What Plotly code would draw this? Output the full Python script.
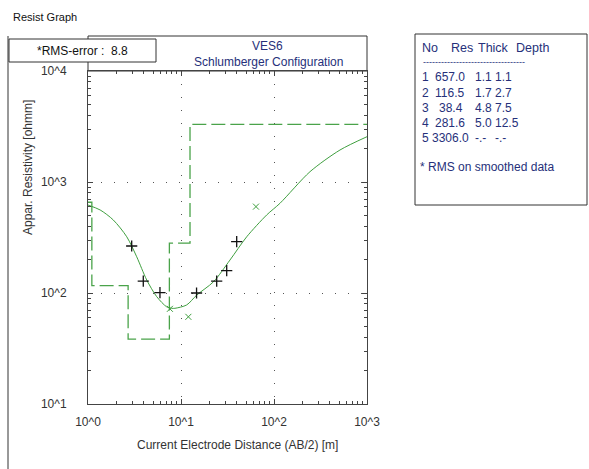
import plotly.graph_objects as go

# Measured apparent resistivity (AB/2 in m, rho_a in ohm-m)
meas_ab2 = [2.95, 3.93, 5.94, 14.7, 24.2, 31.0, 39.7]
meas_rho = [265, 128, 100.7, 100, 128, 159, 290]

# Points flagged after smoothing
flag_ab2 = [7.6, 12.0, 64.0]
flag_rho = [72, 61, 600]

# Calculated (smoothed) sounding curve
calc_ab2 = [1.0, 1.35, 1.87, 2.61, 3.34, 4.28, 5.48, 7.02, 7.94, 8.6, 11.5, 14.8,
            22.3, 33.6, 50.9, 83.5, 116, 244, 512, 1000]
calc_rho = [620, 560, 455, 321, 212, 131, 92.7, 75, 72.8, 72.8, 78, 96,
            126, 198, 321, 505, 643, 1239, 1941, 2560]

# Layered model
layer_no = [1, 2, 3, 4, 5]
layer_res = [657.0, 116.5, 38.4, 281.6, 3306.0]
layer_thick = [1.1, 1.7, 4.8, 5.0, None]
layer_depth = [1.1, 2.7, 7.5, 12.5, None]
rms_error = 8.8

x_tickvals = [1, 10, 100, 1000]
x_ticktext = ["10^0", "10^1", "10^2", "10^3"]
y_tickvals = [10, 100, 1000, 10000]
y_ticktext = ["10^1", "10^2", "10^3", "10^4"]

W, H = 589, 469
L, R, T, B = 88, 367, 71, 404
FONT = "Liberation Sans, Arial, sans-serif"
NAVY = "#26307a"
GREEN = "#3f9f3f"


def px(x):
    return (x - L) / (R - L)


def py(y):
    return (B - y) / (B - T)


# Build step model outline from layer resistivities and depths
step_x, step_y = [1.0], [layer_res[0]]
for i, d in enumerate(layer_depth[:-1]):
    step_x += [d, d]
    step_y += [layer_res[i], layer_res[i + 1]]
step_x.append(1000)
step_y.append(layer_res[-1])

fig = go.Figure()
fig.add_trace(go.Scatter(x=step_x, y=step_y, mode="lines",
                         line=dict(color="#4aa34a", width=1.3, dash="14px,5px"),
                         hoverinfo="skip"))
fig.add_trace(go.Scatter(x=calc_ab2, y=calc_rho, mode="lines",
                         line=dict(color=GREEN, width=1, shape="spline", smoothing=0.8)))
fig.add_trace(go.Scatter(x=flag_ab2, y=flag_rho, mode="markers",
                         marker=dict(symbol="x-thin", size=6, line=dict(color=GREEN, width=1))))
fig.add_trace(go.Scatter(x=meas_ab2, y=meas_rho, mode="markers",
                         marker=dict(symbol="cross-thin", size=8, line=dict(color="#111", width=1.3))))

axis_common = dict(type="log", showline=True, linecolor="#444", linewidth=1, mirror="ticks",
                   ticks="inside", ticklen=5, tickcolor="#444",
                   showgrid=True, gridcolor="#555", griddash="1px,12px", gridwidth=1,
                   zeroline=False, tickfont=dict(family=FONT, size=12, color="#333"),
                   minor=dict(ticks="inside", ticklen=3, tickcolor="#444", dtick="D1", showgrid=False))

fig.update_xaxes(range=[0, 3], tickvals=x_tickvals, ticktext=x_ticktext, ticklabelstandoff=7,
                 **axis_common)
fig.update_yaxes(range=[1, 4], tickvals=y_tickvals, ticktext=y_ticktext, ticklabelstandoff=18,
                 **axis_common)

shapes = []
line = dict(color="#333", width=1)
# outer panel edge
shapes.append(dict(type="line", xref="paper", yref="paper", x0=px(8), x1=px(8), y0=py(36), y1=py(469), line=line))
# header box
shapes.append(dict(type="rect", xref="paper", yref="paper", x0=px(88), x1=px(367), y0=py(71), y1=py(36),
                   line=line, fillcolor="white", layer="below"))
# rms box
shapes.append(dict(type="rect", xref="paper", yref="paper", x0=px(9), x1=px(156), y0=py(62), y1=py(39),
                   line=line, fillcolor="white"))
# model table box
shapes.append(dict(type="rect", xref="paper", yref="paper", x0=px(415), x1=px(587), y0=py(205), y1=py(34),
                   line=line, fillcolor="white", layer="below"))

ann = []


def text(x, y, s, size=12, color="#222", xanchor="left", **kw):
    ann.append(dict(x=px(x), y=py(y), xref="paper", yref="paper", text=s, showarrow=False,
                    xanchor=xanchor, yanchor="middle", font=dict(family=FONT, size=size, color=color), **kw))


text(11, 17, "Resist Graph", 11, "#111")
text(82, 51, f"*RMS-error :  {rms_error}", 12, "#111", xanchor="center")
text(267, 46, "VES6", 12, NAVY, xanchor="center")
text(268, 62, "Schlumberger Configuration", 12, NAVY, xanchor="center")
text(28, 168, "Appar. Resistivity [ohmm]", 12, "#333", xanchor="center", textangle=-90)
text(237, 445, "Current Electrode Distance (AB/2) [m]", 12, "#333", xanchor="center")

# model table
text(420, 48, "No", 12.5, NAVY)
text(449, 48, "Res", 12.5, NAVY)
text(476, 48, "Thick", 12.5, NAVY)
text(514, 48, "Depth", 12.5, NAVY)
text(421, 62, "-" * 34, 9, NAVY)
row_y = [77, 93, 108, 123, 138]
ROW = 12
for n, r, t, d, yy in zip(layer_no, layer_res, layer_thick, layer_depth, row_y):
    rs = f"{r:.1f}"
    text(420, yy, str(n), ROW, NAVY)
    text(430 + 3.3 * (6 - len(rs)), yy, rs, ROW, NAVY)
    text(473, yy, "-.-" if t is None else f"{t:.1f}", ROW, NAVY)
    text(493, yy, "-.-" if d is None else f"{d:.1f}", ROW, NAVY)
text(418, 167, "* RMS on smoothed data", 12, NAVY)

fig.update_layout(width=W, height=H, margin=dict(l=L, r=W - R, t=T, b=H - B),
                  paper_bgcolor="white", plot_bgcolor="white", showlegend=False,
                  shapes=shapes, annotations=ann)

fig.write_html("out.html")
